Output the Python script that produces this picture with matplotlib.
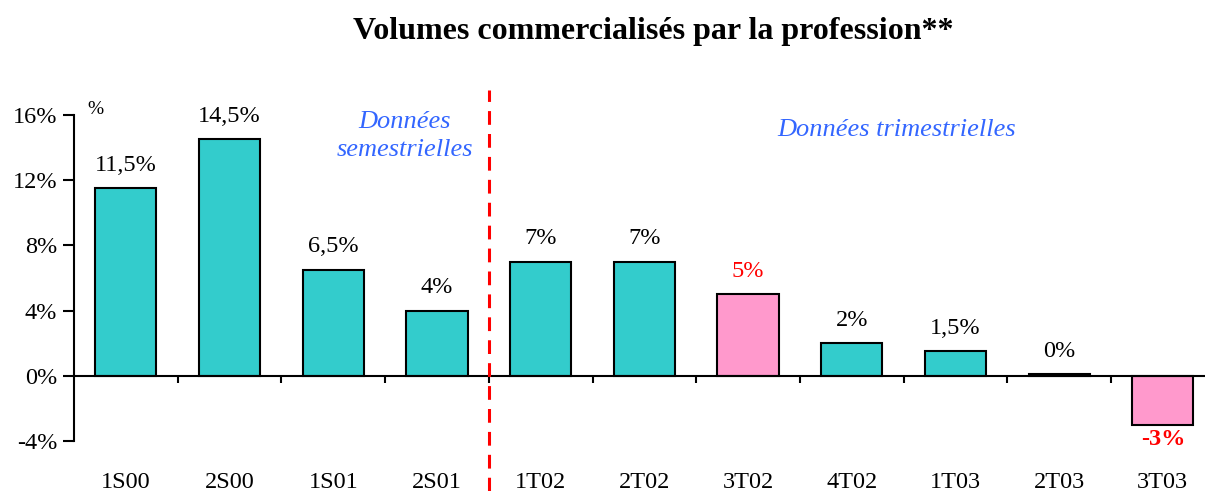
import matplotlib
matplotlib.use("Agg")
import matplotlib.pyplot as plt
import numpy as np

categories = ["1S00", "2S00", "1S01", "2S01", "1T02", "2T02", "3T02", "4T02", "1T03", "2T03", "3T03"]
values = [11.5, 14.5, 6.5, 4, 7, 7, 5, 2, 1.5, 0.1, -3]
labels = ["11,5%", "14,5%", "6,5%", "4%", "7%", "7%", "5%", "2%", "1,5%", "0%", "-3%"]
highlight = [False, False, False, False, False, False, True, False, False, False, True]
yticks = [-4, 0, 4, 8, 12, 16]

plt.rcParams['font.family'] = ['Liberation Serif', 'DejaVu Serif']

W, H = 1205, 491
fig = plt.figure(figsize=(W/100, H/100), dpi=100)
ax = fig.add_axes([74/W, (H-441)/H, (W-74)/W, 326/H])

teal = "#33CCCC"
pink = "#FF99CC"
x = np.arange(len(categories))
colors = [pink if h else teal for h in highlight]
ax.bar(x, values, width=0.59, color=colors, edgecolor="black", linewidth=1.5, zorder=3)

step = 103.7
ax.set_xlim(-0.5, -0.5 + (W-74)/step)
ax.set_ylim(-4, 16)

for s in ["top", "right", "bottom"]:
    ax.spines[s].set_visible(False)
ax.spines["left"].set_linewidth(1.5)
ax.axhline(0, color="black", lw=1.5, zorder=4)
ax.vlines(np.arange(0.5, 10.5, 1.0), -0.45, 0, color="black", lw=1.5, zorder=4)

ax.set_yticks(yticks)
ax.set_yticklabels([f"{t}%" for t in yticks], fontsize=17.5)
ax.tick_params(axis="y", length=8, width=1.5, pad=4)
ax.set_xticks(x)
ax.set_xticklabels(categories, fontsize=17.5)
ax.tick_params(axis="x", length=0, pad=22)

for xi, v, lab, h in zip(x, values, labels, highlight):
    if v >= 0:
        ax.annotate(lab, (xi, v), xytext=(0, 9), textcoords="offset points",
                    ha="center", va="bottom", fontsize=17.5,
                    color="red" if h else "black")
    else:
        ax.annotate(lab, (xi, v), xytext=(0, -3), textcoords="offset points",
                    ha="center", va="top", fontsize=17.5, fontweight="bold",
                    color="red")

ax.axvline(3.5, ymin=(441-491)/326, ymax=(441-90)/326, color="red", lw=2.2,
           linestyle=(0, (4.5, 3)), clip_on=False, zorder=5)

blue = "#3366FF"
ax.text(405/W, (H-136)/H, "Données\nsemestrielles", transform=fig.transFigure,
        ha="center", va="center", fontsize=19, style="italic", color=blue,
        linespacing=1.35)
ax.text(897/W, (H-130)/H, "Données trimestrielles", transform=fig.transFigure,
        ha="center", va="center", fontsize=19, style="italic", color=blue)
ax.text(95/W, (H-110)/H, "%", transform=fig.transFigure, ha="center",
        va="center", fontsize=14)

fig.text(653/W, (H-32)/H, "Volumes commercialisés par la profession**",
         ha="center", va="center", fontsize=23, fontweight="bold")

fig.savefig("out.png", dpi=100)
